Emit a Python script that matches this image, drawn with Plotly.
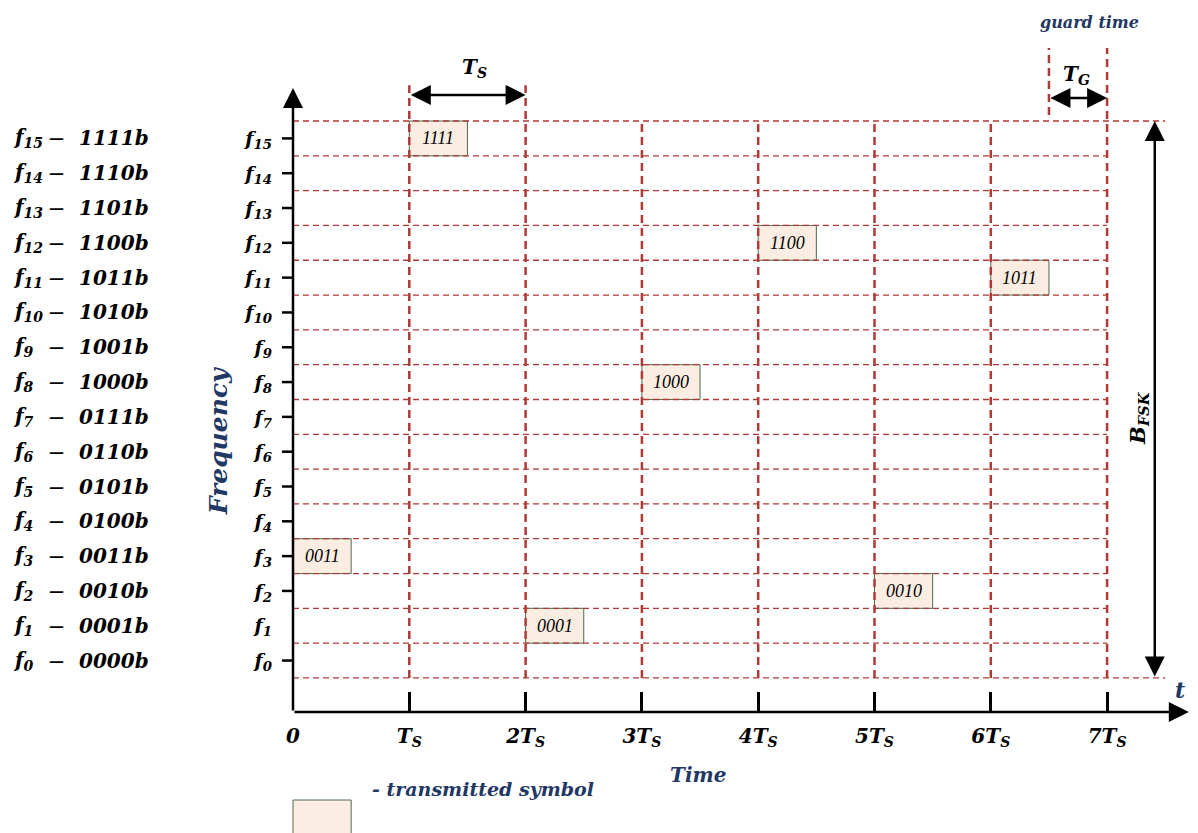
import plotly.graph_objects as go

# ---------------- data ----------------
levels = list(range(16))
level_codes = ["0000b", "0001b", "0010b", "0011b", "0100b", "0101b", "0110b", "0111b",
               "1000b", "1001b", "1010b", "1011b", "1100b", "1101b", "1110b", "1111b"]
level_labels = [f"f<sub>{k}</sub>" for k in levels]
levels_without_tick = [1]

times = [0, 1, 2, 3, 4, 5, 6, 7]
time_labels = ["0", "T<sub>S</sub>", "2T<sub>S</sub>", "3T<sub>S</sub>", "4T<sub>S</sub>",
               "5T<sub>S</sub>", "6T<sub>S</sub>", "7T<sub>S</sub>"]

symbol_slots = [0, 1, 2, 3, 4, 5, 6]
symbol_levels = [3, 15, 1, 8, 12, 2, 11]
symbol_bits = ["0011", "1111", "0001", "1000", "1100", "0010", "1011"]

symbol_width = 0.5      # fraction of Ts occupied by a symbol
guard_start = 6.5

# ---------------- layout constants ----------------
OFF = 8                         # page offset of the figure div (body margin)
W, H = 1182, 825
ML, MR, MT, MB = 285, 0, 0, 121
PW, PH = W - ML - MR, H - MT - MB
PX_X = 116.3
X_MAX = PW / PX_X
Y_MIN = -1.478
PX_Y = 34.81
Y_MAX = Y_MIN + PH / PX_Y

def paper_x(page_px):
    return (page_px - OFF - ML) / PW

def paper_y(page_px):
    return (H - MB - (page_px - OFF)) / PH

FONT = "DejaVu Serif"
BLUE = "#1F3864"
RED = "#B03A36"
BOX_FILL = "#FCEDE2"
BOX_LINE = "#4E6B4E"

band_lo = min(levels) - 0.5
band_hi = max(levels) + 0.5
ts_arrow_y = 16.25
tg_arrow_y = 16.16
guard_top = 17.6
bfsk_x = 7.41

def bi(size, color="black"):
    return dict(family=FONT, size=size, color=color, weight="bold", style="italic")

fig = go.Figure()
fig.add_trace(go.Scatter(x=[0], y=[0], mode="markers", marker=dict(opacity=0),
                         showlegend=False, hoverinfo="skip"))

shapes = []
# transmitted symbol boxes
for t, f in zip(symbol_slots, symbol_levels):
    shapes.append(dict(type="rect", xref="x", yref="y", x0=t, x1=t + symbol_width,
                       y0=f - 0.5, y1=f + 0.5, fillcolor=BOX_FILL,
                       line=dict(color=BOX_LINE, width=1)))
# horizontal band boundaries
bounds = [k - 0.5 for k in levels] + [band_hi]
for b in bounds:
    x_end = 7.5 if b in (band_lo, band_hi) else max(times)
    shapes.append(dict(type="line", xref="x", yref="y", x0=0, x1=x_end, y0=b, y1=b,
                       line=dict(color=RED, width=1.3, dash="6px,4px")))
# vertical slot boundaries
for t in times[1:]:
    top = band_hi
    if t in (1, 2):
        top = ts_arrow_y + 0.28
    if t == max(times):
        top = guard_top
    shapes.append(dict(type="line", xref="x", yref="y", x0=t, x1=t, y0=band_lo, y1=top,
                       line=dict(color=RED, width=2.5, dash="8px,5px")))
# guard time marker
shapes.append(dict(type="line", xref="x", yref="y", x0=guard_start, x1=guard_start,
                   y0=band_hi + 0.17, y1=guard_top,
                   line=dict(color=RED, width=2.5, dash="8px,5px")))
# y tick marks (f1 has none in the reference)
for k in levels:
    if k in levels_without_tick:
        continue
    shapes.append(dict(type="line", xref="paper", yref="y", x0=-11 / PW, x1=0,
                       y0=k, y1=k, line=dict(color="black", width=2.5)))
# legend swatch
shapes.append(dict(type="rect", xref="paper", yref="paper",
                   x0=0, x1=symbol_width * PX_X / PW,
                   y0=paper_y(800), y1=paper_y(850),
                   fillcolor=BOX_FILL, line=dict(color=BOX_LINE, width=1)))

ann = []
def arrow(x, y, ax, ay, both=False):
    d = dict(x=x, y=y, ax=ax, ay=ay, xref="x", yref="y", axref="x", ayref="y",
             text="", showarrow=True, arrowhead=2, arrowsize=1.6, arrowwidth=2.5,
             arrowcolor="black", standoff=0, startstandoff=0)
    if both:
        d.update(arrowside="end+start", startarrowhead=2, startarrowsize=1.6)
    ann.append(d)

# axes with arrowheads
arrow(X_MAX - 0.01, Y_MIN, 0, Y_MIN)
arrow(0, 16.45, 0, Y_MIN)
# Ts, Tg, B_FSK dimension arrows
arrow(2, ts_arrow_y, 1, ts_arrow_y, both=True)
arrow(max(times), tg_arrow_y, guard_start, tg_arrow_y, both=True)
arrow(bfsk_x, band_hi, bfsk_x, band_lo, both=True)

# symbol texts
for t, f, s in zip(symbol_slots, symbol_levels, symbol_bits):
    ann.append(dict(x=t + symbol_width / 2, y=f, xref="x", yref="y", text=s, showarrow=False,
                    xanchor="center", yanchor="middle",
                    font=dict(family="Liberation Serif", size=18, color="black", style="italic")))

# left-hand list of frequencies
for k, code in zip(levels, level_codes):
    ann.append(dict(x=paper_x(11), y=k, xref="paper", yref="y", text=level_labels[k],
                    xanchor="left", yanchor="middle", showarrow=False, font=bi(20)))
    ann.append(dict(x=paper_x(56), y=k, xref="paper", yref="y", text="—",
                    xanchor="center", yanchor="middle", showarrow=False, font=bi(15)))
    ann.append(dict(x=paper_x(77), y=k, xref="paper", yref="y", text=code,
                    xanchor="left", yanchor="middle", showarrow=False, font=bi(20)))

# text labels
ann.append(dict(x=paper_x(218), y=6.3, xref="paper", yref="y", text="Frequency",
                xanchor="center", yanchor="middle",
                textangle=-90, showarrow=False, font=bi(25, BLUE)))
ann.append(dict(x=1.56, y=17.02, xref="x", yref="y", text="T<sub>S</sub>",
                xanchor="center", yanchor="middle", showarrow=False, font=bi(20)))
ann.append(dict(x=6.74, y=16.82, xref="x", yref="y", text="T<sub>G</sub>",
                xanchor="center", yanchor="middle", showarrow=False, font=bi(20)))
ann.append(dict(x=6.85, y=18.34, xref="x", yref="y", text="guard time",
                xanchor="center", yanchor="middle", showarrow=False, font=bi(16, BLUE)))
ann.append(dict(x=7.27, y=6.95, xref="x", yref="y", text="B<sub>FSK</sub>",
                xanchor="center", yanchor="middle",
                textangle=-90, showarrow=False, font=bi(21)))
ann.append(dict(x=7.63, y=-0.85, xref="x", yref="y", text="t",
                xanchor="center", yanchor="middle", showarrow=False, font=bi(22, BLUE)))
ann.append(dict(x=paper_x(698), y=paper_y(775), xref="paper", yref="paper",
                xanchor="center", yanchor="middle",
                text="Time", showarrow=False, font=bi(20, BLUE)))
ann.append(dict(x=paper_x(370), y=paper_y(789), xref="paper", yref="paper",
                text="- transmitted symbol", xanchor="left", yanchor="middle",
                showarrow=False, font=bi(19, BLUE)))

fig.update_layout(
    width=W, height=H,
    margin=dict(l=ML, r=MR, t=MT, b=MB),
    paper_bgcolor="white", plot_bgcolor="white",
    showlegend=False,
    shapes=shapes, annotations=ann,
    xaxis=dict(range=[0, X_MAX], showgrid=False, zeroline=False, showline=False,
               tickmode="array", tickvals=times, ticktext=time_labels,
               ticks="inside", ticklen=20, tickwidth=2.5, tickcolor="black",
               tickfont=bi(20), ticklabelstandoff=10, fixedrange=True),
    yaxis=dict(range=[Y_MIN, Y_MAX], showgrid=False, zeroline=False, showline=False,
               tickmode="array", tickvals=levels, ticktext=level_labels,
               ticks="", tickfont=bi(19), ticklabelstandoff=20, fixedrange=True),
)

fig.write_html("out.html")
